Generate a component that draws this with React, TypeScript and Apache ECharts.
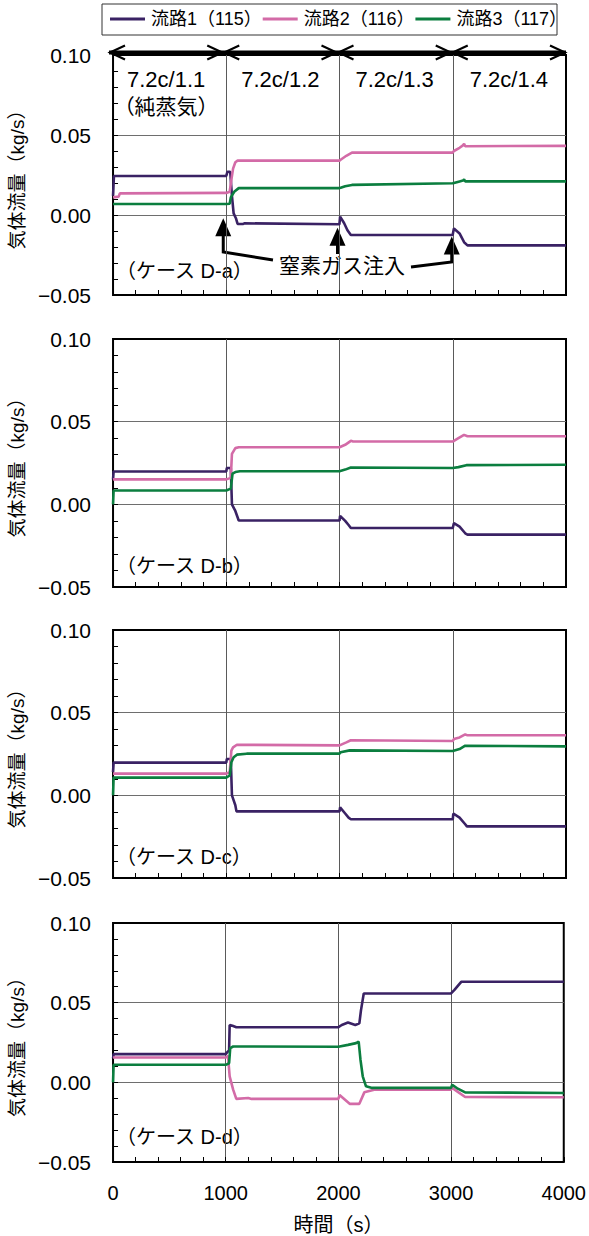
import React, { useEffect, useRef } from "react";
import * as echarts from "echarts";

// Gas flow rate (kg/s) in each flow path over time (s), cases D-a .. D-d
const seriesNames = ["流路1（115）", "流路2（116）", "流路3（117）"];
const seriesColors = ["#3a2264", "#d36ba7", "#0b7e3f"];
const caseLabels = ["（ケース D-a）", "（ケース D-b）", "（ケース D-c）", "（ケース D-d）"];
const stageLabels = ["7.2c/1.1", "7.2c/1.2", "7.2c/1.3", "7.2c/1.4"];
const stageBounds = [0, 1000, 2000, 3000, 4000];
const injectionTimes = [1000, 2000, 3000];
const injectionTipValues = [-0.002, -0.008, -0.0135];
const xTicks = [0, 1000, 2000, 3000, 4000];
const yTicks = [-0.05, 0, 0.05, 0.1];

const caseA_path1 = [[0, 0.012], [8, 0.0244], [1000, 0.0244], [1010, 0.027], [1035, 0.027], [1050, 0.012], [1065, 0.001], [1085, -0.002], [1100, -0.0056], [1150, -0.0056], [1160, -0.0052], [1999, -0.0058], [2005, -0.001], [2040, -0.005], [2070, -0.0095], [2100, -0.0125], [2999, -0.0125], [3010, -0.0085], [3060, -0.0115], [3100, -0.017], [3130, -0.019], [4000, -0.019]];
const caseA_path2 = [[0, 0.011], [50, 0.0115], [60, 0.0135], [1000, 0.0138], [1030, 0.0145], [1045, 0.022], [1060, 0.029], [1080, 0.033], [1100, 0.034], [2000, 0.034], [2010, 0.0345], [2060, 0.037], [2110, 0.039], [3000, 0.039], [3010, 0.04], [3060, 0.042], [3090, 0.0435], [3100, 0.0445], [3110, 0.043], [4000, 0.0432]];
const caseA_path3 = [[0, 0.0069], [1000, 0.0069], [1030, 0.007], [1040, 0.011], [1070, 0.0145], [1110, 0.0168], [2000, 0.0168], [2010, 0.017], [2050, 0.018], [2110, 0.0188], [3000, 0.0198], [3010, 0.02], [3060, 0.021], [3090, 0.0215], [3100, 0.0222], [3110, 0.021], [4000, 0.021]];

const caseB_path1 = [[0, 0.015], [5, 0.0199], [1000, 0.0199], [1005, 0.022], [1040, 0.022], [1050, 0.0], [1080, -0.004], [1110, -0.0098], [2000, -0.0098], [2005, -0.007], [2050, -0.01], [2080, -0.0125], [2100, -0.0143], [3000, -0.0143], [3010, -0.0114], [3060, -0.0135], [3110, -0.0175], [3130, -0.0183], [4000, -0.0183]];
const caseB_path2 = [[0, 0.0151], [1000, 0.0151], [1040, 0.016], [1050, 0.0305], [1080, 0.034], [1110, 0.0345], [2000, 0.0345], [2050, 0.036], [2100, 0.0384], [2120, 0.038], [3000, 0.038], [3050, 0.04], [3100, 0.042], [3130, 0.0412], [4000, 0.0412]];
const caseB_path3 = [[0, 0], [5, 0.0084], [1000, 0.0084], [1040, 0.0095], [1055, 0.0185], [1080, 0.0195], [1120, 0.02], [2000, 0.02], [2050, 0.021], [2100, 0.0223], [3000, 0.022], [3050, 0.0225], [3120, 0.0237], [4000, 0.0239]];

const caseC_path1 = [[0, 0.014], [5, 0.0198], [1000, 0.0198], [1005, 0.022], [1040, 0.022], [1050, 0.0], [1060, -0.002], [1080, -0.006], [1090, -0.0097], [2000, -0.0097], [2005, -0.0073], [2050, -0.011], [2080, -0.0135], [2100, -0.0145], [3000, -0.0145], [3005, -0.011], [3060, -0.0135], [3110, -0.0175], [3125, -0.0188], [4000, -0.0188]];
const caseC_path2 = [[0, 0.0131], [1000, 0.0131], [1030, 0.014], [1045, 0.027], [1060, 0.029], [1094, 0.0306], [2000, 0.0302], [2010, 0.0305], [2060, 0.032], [2100, 0.0333], [3000, 0.0329], [3010, 0.034], [3060, 0.035], [3110, 0.0369], [3130, 0.0363], [4000, 0.0363]];
const caseC_path3 = [[0, 0], [5, 0.0107], [1000, 0.0107], [1030, 0.012], [1045, 0.02], [1065, 0.023], [1094, 0.0246], [1180, 0.0252], [2000, 0.0252], [2010, 0.026], [2090, 0.0272], [3000, 0.0268], [3060, 0.028], [3110, 0.03], [4000, 0.0296]];

const caseD_path1 = [[0, 0.015], [5, 0.0177], [1000, 0.0177], [1020, 0.0194], [1030, 0.02], [1035, 0.036], [1060, 0.0355], [1094, 0.0346], [2000, 0.0346], [2030, 0.036], [2085, 0.0375], [2150, 0.036], [2186, 0.037], [2200, 0.045], [2225, 0.0558], [3000, 0.0558], [3030, 0.058], [3090, 0.0631], [4000, 0.0631]];
const caseD_path2 = [[0, 0.0156], [1000, 0.0156], [1020, 0.0167], [1035, 0.0037], [1066, -0.0046], [1094, -0.0104], [1200, -0.0098], [1230, -0.0104], [2000, -0.0104], [2010, -0.008], [2100, -0.0135], [2186, -0.0135], [2230, -0.0063], [2317, -0.0046], [3000, -0.0046], [3010, -0.0035], [3060, -0.006], [3125, -0.0092], [4000, -0.0094]];
const caseD_path3 = [[0, 0], [5, 0.011], [1000, 0.011], [1030, 0.012], [1040, 0.0215], [1066, 0.0225], [2000, 0.0223], [2085, 0.0235], [2157, 0.0246], [2180, 0.0256], [2196, 0.0142], [2216, 0.0038], [2245, -0.0025], [2300, -0.0035], [3000, -0.0035], [3010, -0.0015], [3060, -0.004], [3125, -0.0063], [4000, -0.0067]];

const caseData = [
  [caseA_path1, caseA_path2, caseA_path3],
  [caseB_path1, caseB_path2, caseB_path3],
  [caseC_path1, caseC_path2, caseC_path3],
  [caseD_path1, caseD_path2, caseD_path3],
];

// Layout
const FONT = '"Liberation Sans", "Noto Sans CJK JP", sans-serif';
const PLOT_LEFT = 109;
const PLOT_WIDTH = 457;
const panels = [
  { top: 55, height: 240 },
  { top: 339, height: 248 },
  { top: 630, height: 248 },
  { top: 923, height: 240 },
];
const X_MIN = xTicks[0];
const X_MAX = xTicks[xTicks.length - 1];
const Y_MIN = yTicks[0];
const Y_MAX = yTicks[yTicks.length - 1];

const px = (t: number) => PLOT_LEFT + ((t - X_MIN) / (X_MAX - X_MIN)) * PLOT_WIDTH;
const py = (v: number, i: number) =>
  panels[i].top + ((Y_MAX - v) / (Y_MAX - Y_MIN)) * panels[i].height;

const fmtY = (v: number) => {
  const s = Math.abs(v).toFixed(2);
  return v < -1e-9 ? "\u2212" + s : s;
};
const fmtX = (v: number) => String(Math.round(v));

function buildGraphics() {
  const g: any[] = [];
  // legend frame
  g.push({
    type: "rect",
    shape: { x: 102, y: 4, width: 455, height: 31 },
    style: { fill: "none", stroke: "#333", lineWidth: 1 },
  });
  // stage span arrows across the top of the first panel
  const arrowY = 52.5;
  g.push({
    type: "line",
    shape: { x1: px(X_MIN), y1: arrowY, x2: px(X_MAX), y2: arrowY },
    style: { stroke: "#000", lineWidth: 4 },
  });
  for (let k = 0; k < stageLabels.length; k++) {
    const a = px(stageBounds[k]);
    const b = px(stageBounds[k + 1]);
    g.push({
      type: "polyline",
      shape: { points: [[a + 16, arrowY - 7], [a + 1, arrowY], [a + 16, arrowY + 7]] },
      style: { stroke: "#000", lineWidth: 2.2, fill: "none" },
    });
    g.push({
      type: "polyline",
      shape: { points: [[b - 16, arrowY - 7], [b - 1, arrowY], [b - 16, arrowY + 7]] },
      style: { stroke: "#000", lineWidth: 2.2, fill: "none" },
    });
    g.push({
      type: "text",
      x: (a + b) / 2,
      y: 79,
      style: { text: stageLabels[k], font: `22px ${FONT}`, fill: "#000", align: "center", verticalAlign: "middle" },
    });
  }
  g.push({
    type: "text",
    x: (px(stageBounds[0]) + px(stageBounds[1])) / 2,
    y: 106,
    style: { text: "（純蒸気）", font: `21px ${FONT}`, fill: "#000", align: "center", verticalAlign: "middle" },
  });

  // nitrogen injection markers
  const shaftEnds = [252, 254, 262];
  const leaders: (number[] | null)[] = [[273, 260], null, [411, 267]];
  injectionTimes.forEach((t, k) => {
    const x = px(t);
    const tip = py(injectionTipValues[k], 0);
    g.push({
      type: "polygon",
      shape: { points: [[x, tip], [x - 8, tip + 18], [x + 8, tip + 18]] },
      style: { fill: "#000" },
    });
    const pts: number[][] = [[x, tip + 14], [x, shaftEnds[k]]];
    const lead = leaders[k];
    if (lead) pts.push(lead);
    g.push({
      type: "polyline",
      shape: { points: pts },
      style: { stroke: "#000", lineWidth: 3, fill: "none" },
    });
  });
  g.push({
    type: "text",
    x: 342,
    y: 265,
    style: { text: "窒素ガス注入", font: `21px ${FONT}`, fill: "#000", align: "center", verticalAlign: "middle" },
  });

  // case labels
  const labelOffsets = [24, 21, 21, 26];
  caseLabels.forEach((txt, i) => {
    g.push({
      type: "text",
      x: 116,
      y: panels[i].top + panels[i].height - labelOffsets[i],
      style: { text: txt, font: `20px ${FONT}`, fill: "#000", align: "left", verticalAlign: "middle" },
    });
  });
  return g;
}

function buildOption() {
  const grid = panels.map((p) => ({
    left: PLOT_LEFT,
    top: p.top,
    width: PLOT_WIDTH,
    height: p.height,
    show: true,
    borderColor: "#000",
    borderWidth: 2,
    backgroundColor: "transparent",
  }));

  const xAxis = panels.map((_, i) => ({
    gridIndex: i,
    type: "value",
    position: "bottom",
    min: X_MIN,
    max: X_MAX,
    interval: 1000,
    name: i === panels.length - 1 ? "時間（s）" : "",
    nameLocation: "middle",
    nameGap: 53,
    nameTextStyle: { fontSize: 20, color: "#000", fontFamily: FONT },
    axisLine: { show: false, onZero: false },
    axisTick: { show: true, inside: true, length: 5, lineStyle: { color: "#000", width: 1 } },
    minorTick: { show: true, splitNumber: 5, length: 5, lineStyle: { color: "#000", width: 1 } },
    axisLabel: {
      show: i === panels.length - 1,
      margin: 21,
      fontSize: 20,
      color: "#000",
      fontFamily: FONT,
      formatter: fmtX,
    },
    splitLine: { show: true, showMinLine: false, showMaxLine: false, lineStyle: { color: "#5a5a5a", width: 1 } },
  }));

  const yAxis = panels.map((_, i) => ({
    gridIndex: i,
    type: "value",
    position: "left",
    min: Y_MIN,
    max: Y_MAX,
    interval: 0.05,
    name: "気体流量（kg/s）",
    nameLocation: "middle",
    nameRotate: 90,
    nameGap: 78,
    nameTextStyle: { fontSize: 19, color: "#000", fontFamily: FONT },
    axisLine: { show: false, onZero: false },
    axisTick: { show: true, inside: true, length: 5, lineStyle: { color: "#000", width: 1 } },
    minorTick: { show: true, splitNumber: 5, length: 5, lineStyle: { color: "#000", width: 1 } },
    axisLabel: { margin: 22, fontSize: 21, color: "#000", fontFamily: FONT, formatter: fmtY },
    splitLine: { show: true, showMinLine: false, showMaxLine: false, lineStyle: { color: "#6e6e6e", width: 1 } },
  }));

  const series: any[] = [];
  caseData.forEach((paths, i) => {
    paths.forEach((data, k) => {
      series.push({
        type: "line",
        name: seriesNames[k],
        xAxisIndex: i,
        yAxisIndex: i,
        data,
        showSymbol: false,
        symbol: "none",
        color: seriesColors[k],
        lineStyle: { color: seriesColors[k], width: 2.6 },
        z: 3,
      });
    });
  });

  return {
    animation: false,
    backgroundColor: "#fff",
    textStyle: { fontFamily: FONT },
    legend: {
      data: seriesNames,
      left: 110,
      top: 10,
      padding: 0,
      itemGap: 1,
      itemWidth: 35,
      itemHeight: 3,
      icon: "rect",
      textStyle: { fontSize: 18, color: "#000", fontFamily: FONT, padding: [0, 0, 0, 1] },
    },
    grid,
    xAxis,
    yAxis,
    series,
    graphic: buildGraphics(),
  };
}

export default function App() {
  const ref = useRef<HTMLDivElement>(null);
  useEffect(() => {
    if (!ref.current) return;
    const chart = echarts.init(ref.current, undefined, { renderer: "svg" });
    chart.setOption(buildOption() as any);
    return () => chart.dispose();
  }, []);
  return (
    <div
      ref={ref}
      style={{ position: "absolute", left: 0, top: 0, width: 589, height: 1236, background: "#fff" }}
    />
  );
}
